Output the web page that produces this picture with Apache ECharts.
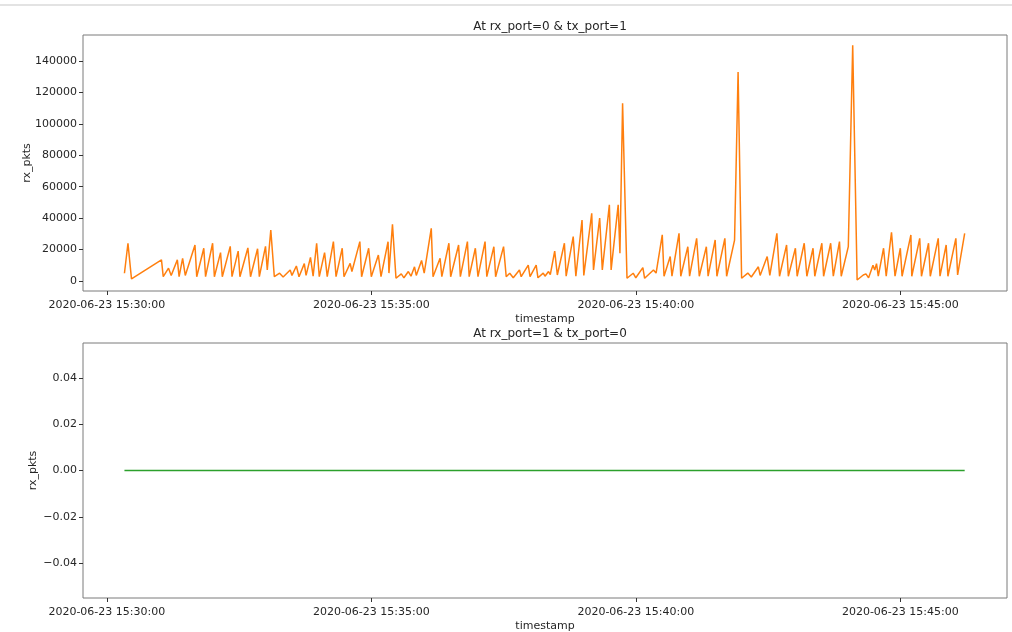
<!DOCTYPE html>
<html>
<head>
<meta charset="utf-8">
<script src="https://cdn.jsdelivr.net/npm/echarts@6/dist/echarts.min.js"></script>
<style>
html,body{margin:0;padding:0;background:#fff;}
#chart{width:1012px;height:632px;}
</style>
</head>
<body>
<div id="chart"></div>
<script>
const datePrefix = '2020-06-23 ';
const titles = ['At rx_port=0 & tx_port=1', 'At rx_port=1 & tx_port=0'];
const xTickLabels = ['15:30:00', '15:35:00', '15:40:00', '15:45:00'];
const xRange = ['15:29:33', '15:47:01'];
const yTicksTop = [0, 20000, 40000, 60000, 80000, 100000, 120000, 140000];
const yRangeTop = [-6400, 156500];
const yTicksBottom = [-0.04, -0.02, 0, 0.02, 0.04];
const yRangeBottom = [-0.055, 0.055];

const rx0Times = [
'15:30:20','15:30:24','15:30:28','15:31:02','15:31:04','15:31:10','15:31:13','15:31:20','15:31:22','15:31:26',
'15:31:29','15:31:40','15:31:42','15:31:50','15:31:52','15:32:00','15:32:02','15:32:09','15:32:11','15:32:20',
'15:32:22','15:32:29','15:32:31','15:32:40','15:32:43','15:32:51','15:32:53','15:33:00','15:33:02','15:33:06',
'15:33:10','15:33:16','15:33:20','15:33:28','15:33:30','15:33:35','15:33:38','15:33:44','15:33:46','15:33:51',
'15:33:54','15:33:58','15:34:01','15:34:07','15:34:10','15:34:17','15:34:20','15:34:27','15:34:29','15:34:36',
'15:34:38','15:34:47','15:34:49','15:34:57','15:35:00','15:35:08','15:35:11','15:35:19','15:35:20','15:35:24',
'15:35:28','15:35:34','15:35:37','15:35:42','15:35:45','15:35:49','15:35:51','15:35:57','15:36:00','15:36:08',
'15:36:10','15:36:18','15:36:20','15:36:28','15:36:30','15:36:39','15:36:41','15:36:49','15:36:51','15:36:58',
'15:37:01','15:37:09','15:37:11','15:37:19','15:37:21','15:37:30','15:37:33','15:37:37','15:37:41','15:37:48',
'15:37:50','15:37:58','15:38:00','15:38:07','15:38:09','15:38:15','15:38:17','15:38:21','15:38:23','15:38:28',
'15:38:31','15:38:39','15:38:41','15:38:49','15:38:52','15:38:59','15:39:01','15:39:10','15:39:12','15:39:19',
'15:39:22','15:39:30','15:39:32','15:39:40','15:39:42','15:39:45','15:39:50','15:39:57','15:40:00','15:40:08',
'15:40:10','15:40:20','15:40:23','15:40:30','15:40:32','15:40:39','15:40:41','15:40:49','15:40:51','15:40:59',
'15:41:01','15:41:09','15:41:12','15:41:20','15:41:22','15:41:30','15:41:32','15:41:41','15:41:43','15:41:52',
'15:41:56','15:42:00','15:42:07','15:42:11','15:42:19','15:42:21','15:42:29','15:42:32','15:42:40','15:42:43',
'15:42:51','15:42:53','15:43:01','15:43:03','15:43:11','15:43:14','15:43:21','15:43:23','15:43:31','15:43:33',
'15:43:41','15:43:44','15:43:51','15:43:53','15:44:01','15:44:06','15:44:11','15:44:18','15:44:21','15:44:24',
'15:44:29','15:44:31','15:44:33','15:44:35','15:44:41','15:44:44','15:44:50','15:44:54','15:45:00','15:45:02',
'15:45:12','15:45:13','15:45:22','15:45:24','15:45:32','15:45:34','15:45:43','15:45:45','15:45:52','15:45:54',
'15:46:03','15:46:05','15:46:13'
];
const rx0Values = [
4900,24000,1300,13400,2700,8100,3500,13400,2700,14400,
3500,22900,2700,20800,2700,24000,2700,18000,2700,22000,
2700,19000,2700,21000,2700,20500,2700,22000,7000,32400,
2700,4900,2500,7000,3500,9500,2700,11000,3500,15000,
3000,24000,2700,18000,2700,25000,2700,20800,2700,11200,
6000,25000,2700,20800,2700,16500,2700,25000,5000,36000,
1700,4500,2000,6000,3000,9000,3500,13000,5000,33500,
2700,14400,2700,24000,2700,22900,2700,25000,2700,20800,
2700,25000,2700,21800,2700,21800,2700,4900,2000,7000,
2700,10000,2700,10000,2000,5000,3000,6000,4000,19000,
3800,24000,3000,28200,3000,38800,3500,43000,7000,40000,
7000,48400,7000,48400,17600,113000,1700,4900,2000,8500,
1700,7000,5000,29300,3000,15500,3000,30300,3000,21800,
3000,27100,3000,21800,3000,26100,3000,27100,3000,26000,
133000,1700,5000,2500,9000,3500,15500,3500,30300,3000,
22900,3000,20800,3000,24000,3000,20800,3000,24000,3000,
24000,3000,25000,3000,21800,150000,600,3800,4500,2000,
10000,7000,11000,3000,20800,3000,31000,3000,20800,3000,
29300,3000,27100,3000,24000,3000,27100,3000,22900,3000,
27100,3800,30300
];
const rx1Times = ['15:30:20', '15:46:13'];
const rx1Values = [0, 0];

const toMs = t => {
  const p = t.split(':').map(Number);
  return Date.UTC(2020, 5, 23, p[0], p[1], p[2]);
};
const pad = n => String(n).padStart(2, '0');
const fmtX = v => {
  const d = new Date(v);
  return '2020-06-23 ' + pad(d.getUTCHours()) + ':' + pad(d.getUTCMinutes()) + ':' + pad(d.getUTCSeconds());
};
const pair = (times, vals) => times.map((t, i) => [toMs(t), vals[i]]);

const grids = [
  {left: 83, right: 5, top: 35, height: 256},
  {left: 83, right: 5, top: 343, height: 255}
];
const font = 'DejaVu Sans';
const txt = '#262626';

function xAxis(idx) {
  const ticks = xTickLabels.map(toMs);
  return {
    type: 'value', gridIndex: idx, scale: true,
    min: toMs(xRange[0]), max: toMs(xRange[1]),
    name: 'timestamp', nameLocation: 'middle', nameGap: 23, nameMoveOverlap: false,
    nameTextStyle: {fontFamily: font, fontSize: 11, color: txt},
    axisLine: {show: false, onZero: false},
    splitLine: {show: false},
    axisTick: {show: true, length: 4, inside: false, lineStyle: {color: '#333'}, customValues: ticks},
    axisLabel: {fontFamily: font, fontSize: 11, color: txt, margin: 9, customValues: ticks,
      formatter: v => fmtX(v), hideOverlap: false, showMinLabel: true, showMaxLabel: true}
  };
}
function yAxis(idx, rng, ticks, fmt) {
  return {
    type: 'value', gridIndex: idx, min: rng[0], max: rng[1],
    name: 'rx_pkts', nameLocation: 'middle', nameGap: idx === 0 ? 50 : 44, nameMoveOverlap: false,
    nameTextStyle: {fontFamily: font, fontSize: 11, color: txt},
    axisLine: {show: false, onZero: false},
    splitLine: {show: false},
    axisTick: {show: true, length: 4, lineStyle: {color: '#333'}, customValues: ticks},
    axisLabel: {fontFamily: font, fontSize: 11, color: txt, margin: 6, customValues: ticks, formatter: fmt}
  };
}

const chart = echarts.init(document.getElementById('chart'), null, {renderer: 'canvas'});
chart.setOption({
  animation: false,
  backgroundColor: '#fff',
  title: [
    {text: titles[0], left: 545, top: 16, textAlign: 'center',
      textStyle: {fontFamily: font, fontSize: 12, fontWeight: 'normal', color: txt}},
    {text: titles[1], left: 545, top: 323, textAlign: 'center',
      textStyle: {fontFamily: font, fontSize: 12, fontWeight: 'normal', color: txt}}
  ],
  graphic: [
    {type: 'line', shape: {x1: 0, y1: 5, x2: 1012, y2: 5}, style: {stroke: '#e3e3e3', lineWidth: 2}}
  ],
  grid: grids.map(g => Object.assign({show: true, borderColor: '#7a7a7a', borderWidth: 1,
    backgroundColor: 'transparent', outerBoundsMode: 'none', containLabel: false}, g)),
  xAxis: [xAxis(0), xAxis(1)],
  yAxis: [
    yAxis(0, yRangeTop, yTicksTop, v => String(v)),
    yAxis(1, yRangeBottom, yTicksBottom, v => (v < 0 ? '\u2212' : '') + Math.abs(v).toFixed(2))
  ],
  series: [
    {type: 'line', xAxisIndex: 0, yAxisIndex: 0, data: pair(rx0Times, rx0Values),
      showSymbol: false, lineStyle: {color: '#ff7f0e', width: 1.5}, itemStyle: {color: '#ff7f0e'}},
    {type: 'line', xAxisIndex: 1, yAxisIndex: 1, data: pair(rx1Times, rx1Values),
      showSymbol: false, lineStyle: {color: '#2ca02c', width: 1.7}, itemStyle: {color: '#2ca02c'}}
  ]
});
</script>
</body>
</html>
